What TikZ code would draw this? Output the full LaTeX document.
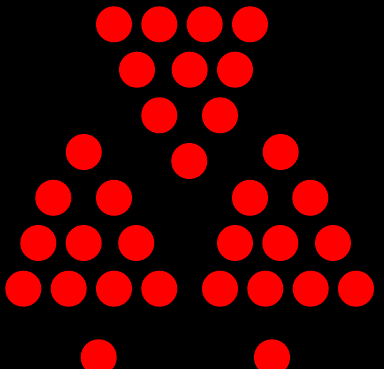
\documentclass[tikz,border=0pt]{standalone}
\usepackage{tikz}

\begin{document}
\begin{tikzpicture}[x=1pt, y=-1pt, dot/.style={circle, fill=red, minimum size=36pt, inner sep=0pt}]
	\fill[black] (0,0) rectangle (384,369);
	\useasboundingbox (0,0) rectangle (384,369);
	% top triangle
	\foreach \x [count=\i] in {114,159.3,204.7,250} {\node[dot] (a\i) at (\x,24.3) {};}
	\foreach \x [count=\i] in {137,189.7,235} {\node[dot] (b\i) at (\x,69.7) {};}
	\foreach \x [count=\i] in {159.3,220} {\node[dot] (c\i) at (\x,115.3) {};}
	\node[dot] (d0) at (189.3,161) {};
	% two lower triangles
	\node[dot] (d1) at (83.8,152) {};
	\node[dot] (d2) at (280.7,152) {};
	\foreach \x [count=\i] in {53.3,114,250,310.3} {\node[dot] (e\i) at (\x,197.8) {};}
	\foreach \x [count=\i] in {38.3,83.7,136.2,235,280.3,333} {\node[dot] (f\i) at (\x,243) {};}
	\foreach \x [count=\i] in {23.3,68.7,114,159.3,220,265.3,310.7,356} {\node[dot] (g\i) at (\x,288.7) {};}
	% bottom pair
	\node[dot] (h1) at (98.7,357.3) {};
	\node[dot] (h2) at (272,357.3) {};
\end{tikzpicture}
\end{document}
